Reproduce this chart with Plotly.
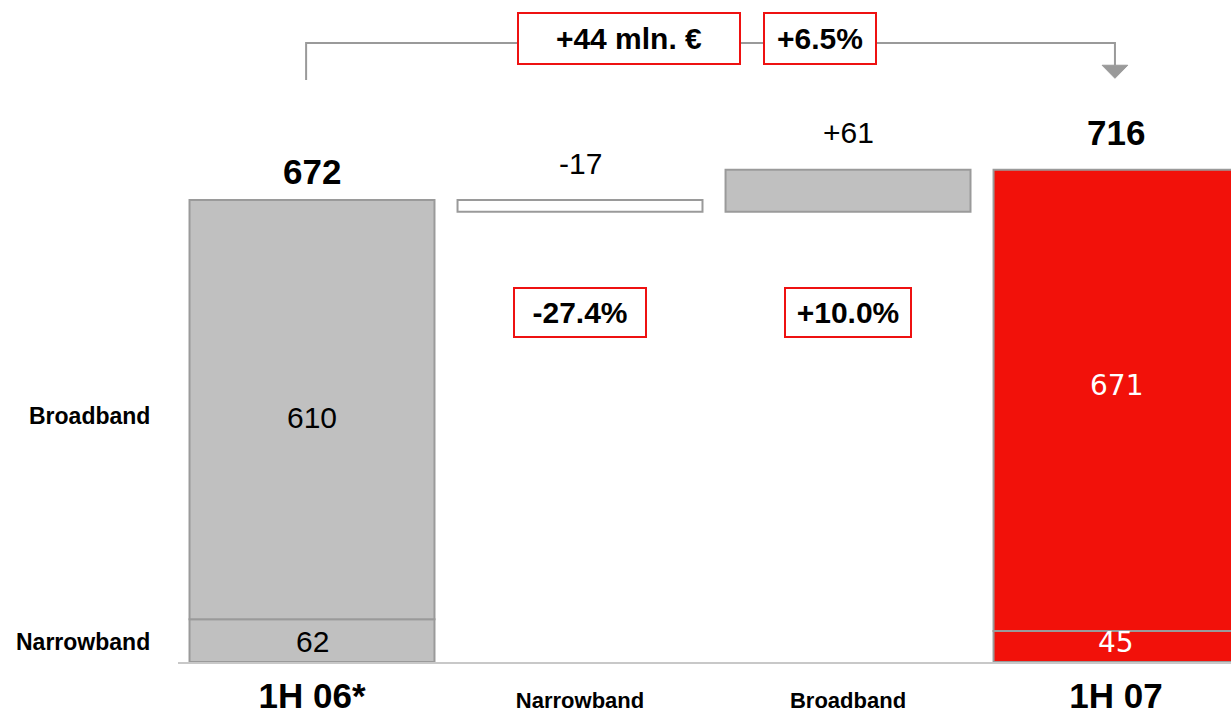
import plotly.graph_objects as go

# Revenue bridge 1H 06* -> 1H 07 (mln. €)
categories = ["1H 06*", "Narrowband", "Broadband", "1H 07"]
tick_labels = ["1H 06*", "Narrowband", "Broadband", "1H 07"]

narrowband_start, broadband_start = 62, 610
narrowband_end, broadband_end = 45, 671
narrowband_change, broadband_change = -17, 61
narrowband_pct, broadband_pct = "-27.4%", "+10.0%"
total_change_label, total_pct_label = "+44 mln. €", "+6.5%"

total_start = narrowband_start + broadband_start
total_end = narrowband_end + broadband_end

GREY = "#c0c0c0"
EDGE = "#9a9a9a"
RED = "#f2110a"
FONT = "Liberation Sans, Arial, sans-serif"
BAR_W = 0.914

fig = go.Figure()

# Stacked totals: narrowband segment at the bottom, broadband on top
fig.add_trace(go.Bar(
    x=[categories[0], categories[3]], y=[narrowband_start, narrowband_end], base=[0, 0],
    marker=dict(color=[GREY, RED], line=dict(color=EDGE, width=2)), width=BAR_W,
))
fig.add_trace(go.Bar(
    x=[categories[0], categories[3]], y=[broadband_start, broadband_end],
    base=[narrowband_start, narrowband_end],
    marker=dict(color=[GREY, RED], line=dict(color=EDGE, width=2)), width=BAR_W,
))
# Floating change bars
fig.add_trace(go.Bar(
    x=[categories[1], categories[2]], y=[narrowband_change, broadband_change],
    base=[total_start, total_start + narrowband_change],
    marker=dict(color=["white", GREY], line=dict(color=EDGE, width=2)), width=BAR_W,
))

ann = []

def label(x, y, text, size, color="black", bold=False, yshift=0, family=FONT, **kw):
    t = f"<b>{text}</b>" if bold else text
    ann.append(dict(x=x, y=y, text=t, showarrow=False, yshift=yshift,
                    font=dict(family=family, size=size, color=color), **kw))

# Totals above bars
label(categories[0], total_start, str(total_start), 35, bold=True, yshift=29)
label(categories[3], total_end, str(total_end), 35, bold=True, yshift=37)
# Changes above floating bars
label(categories[1], total_start, f"{narrowband_change:+d}", 30, yshift=37)
label(categories[2], total_end, f"{broadband_change:+d}", 30, yshift=37)

# Segment values
label(categories[0], narrowband_start + broadband_start / 2, str(broadband_start), 30, yshift=-8)
label(categories[0], narrowband_start / 2, str(narrowband_start), 30, yshift=-1)
label(categories[3], narrowband_end + broadband_end / 2, str(broadband_end), 28,
      color="white", yshift=15, family="DejaVu Sans, sans-serif")
label(categories[3], narrowband_end / 2, str(narrowband_end), 28,
      color="white", yshift=4, family="DejaVu Sans, sans-serif")

# Row labels on the left
for txt, yv, ys in [("Broadband", narrowband_start + broadband_start / 2, -6),
                    ("Narrowband", narrowband_start / 2, -1)]:
    ann.append(dict(xref="paper", x=-0.0245, y=yv, yshift=ys, xanchor="right",
                    text=f"<b>{txt}</b>", showarrow=False,
                    font=dict(family=FONT, size=23, color="black")))

# Boxed growth figures
def box(x, y, text, w, h):
    ann.append(dict(x=x, y=y, text=f"<b>{text}</b>", showarrow=False,
                    width=w, height=h, borderpad=0, bordercolor="#ee1111",
                    borderwidth=2, bgcolor="white",
                    font=dict(family=FONT, size=30, color="black")))

box(1.183, 906.9, total_change_label, 220, 49)
box(1.896, 906.9, total_pct_label, 110, 49)
box(1, 509, narrowband_pct, 130, 47)
box(2.0, 509, broadband_pct, 124, 47)

# Bracket connecting the two totals with an arrow head
shapes = [
    dict(type="path", path="M -0.022,846.5 L -0.022,900.4 L 2.996,900.4 L 2.996,868",
         line=dict(color=EDGE, width=2)),
    dict(type="path", path="M 2.948,868 L 3.044,868 L 2.996,849 Z",
         line=dict(color=EDGE, width=1), fillcolor=EDGE),
]

tick_text = [
    f"<span style='font-size:35px'><b>{tick_labels[0]}</b></span>",
    f"<b>{tick_labels[1]}</b>",
    f"<b>{tick_labels[2]}</b>",
    f"<span style='font-size:35px'><b>{tick_labels[3]}</b></span>",
]

fig.update_layout(
    width=1231, height=715,
    margin=dict(l=178, r=0, t=0, b=53),
    paper_bgcolor="white", plot_bgcolor="white",
    barmode="overlay", showlegend=False,
    annotations=ann, shapes=shapes,
    xaxis=dict(type="category", categoryorder="array", categoryarray=categories,
               range=[-0.5, 3.429], tickvals=categories, ticktext=tick_text,
               showline=True, linecolor="#c8c8c8", linewidth=2,
               showgrid=False, ticks="", ticklabelstandoff=18,
               tickfont=dict(family=FONT, size=22, color="black"),
               fixedrange=True),
    yaxis=dict(range=[0, 962.9], visible=False, showgrid=False, zeroline=False,
               fixedrange=True),
)

fig.write_html("out.html")
